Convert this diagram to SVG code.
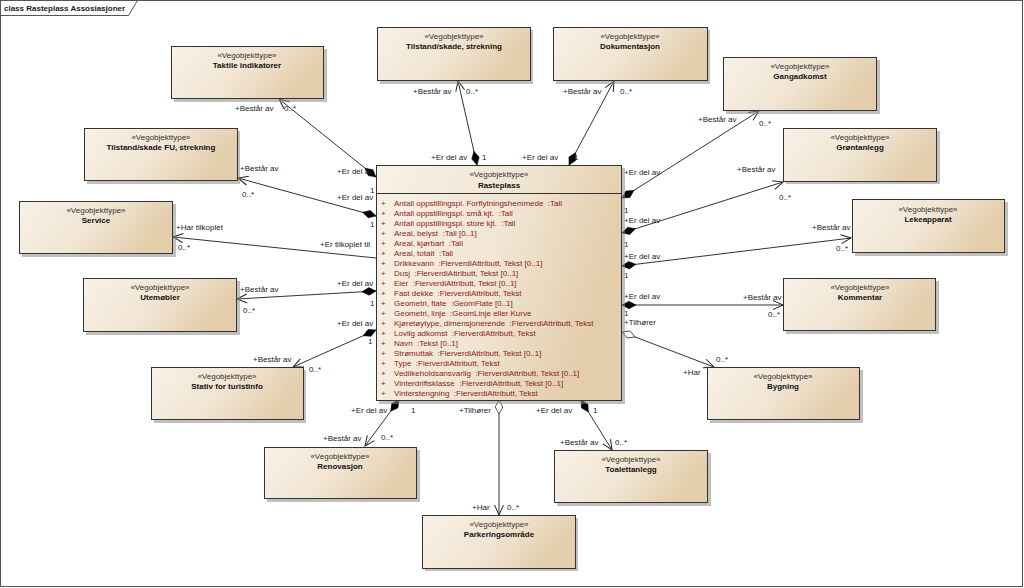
<svg xmlns="http://www.w3.org/2000/svg" width="1024" height="588" viewBox="0 0 1024 588">
<style>
text{font-family:"Liberation Sans",Arial,sans-serif;font-size:8px;fill:#1a1a1a;white-space:pre}
.st{text-anchor:middle;fill:#333}
.nm{text-anchor:middle;font-weight:bold;fill:#111}
.box{fill:url(#g);stroke:#333;stroke-width:1}
.sh{fill:#8c8c8c;opacity:0.55}
.at{fill:#8b1c1c}
.c{fill:none;stroke:#333;stroke-width:1}
.lb{fill:#222}
</style>
<defs>
<linearGradient id="g" x1="0" y1="0" x2="1" y2="0.3">
<stop offset="0" stop-color="#f8f1e6"/>
<stop offset="0.55" stop-color="#f1e5d3"/>
<stop offset="1" stop-color="#e3cdab"/>
</linearGradient>
<marker id="arr" markerUnits="userSpaceOnUse" markerWidth="20" markerHeight="20" refX="0" refY="0" orient="auto" overflow="visible">
<path d="M-10,-4.5 L0,0 L-10,4.5" fill="none" stroke="#222" stroke-width="1"/>
</marker>
<marker id="dia" markerUnits="userSpaceOnUse" markerWidth="20" markerHeight="20" refX="0" refY="0" orient="auto" overflow="visible">
<path d="M0,0 L7,-3.8 L14,0 L7,3.8 Z" fill="#000" stroke="#000" stroke-width="0.5"/>
</marker>
<marker id="hdia" markerUnits="userSpaceOnUse" markerWidth="20" markerHeight="20" refX="0" refY="0" orient="auto" overflow="visible">
<path d="M0,0 L7,-3.8 L14,0 L7,3.8 Z" fill="#fff" stroke="#333" stroke-width="0.8"/>
</marker>
</defs>
<rect x="0" y="0" width="1024" height="588" fill="#fff"/>
<g id="frame">
<rect x="0.5" y="0.5" width="1022" height="586" fill="none" stroke="#555"/>
<path d="M0.5,15.5 H128.5 L137.5,0.5" fill="none" stroke="#555"/>
<text x="4" y="11" style="font-weight:bold">class Rasteplass Assosiasjoner</text>
</g>

<g id="connectors">
<path class="c" d="M376,177 L279,99" marker-start="url(#dia)" marker-end="url(#arr)"/>
<path class="c" d="M376,216 L238,178" marker-start="url(#dia)" marker-end="url(#arr)"/>
<path class="c" d="M376,258 L173,237" marker-end="url(#arr)"/>
<path class="c" d="M376,291 L237,299" marker-start="url(#dia)" marker-end="url(#arr)"/>
<path class="c" d="M376,330 L293,367" marker-start="url(#dia)" marker-end="url(#arr)"/>
<path class="c" d="M399,400 L365,446" marker-start="url(#dia)" marker-end="url(#arr)"/>
<path class="c" d="M499,400 L499,515" marker-start="url(#hdia)" marker-end="url(#arr)"/>
<path class="c" d="M581,400 L612,450" marker-start="url(#dia)" marker-end="url(#arr)"/>
<path class="c" d="M477,165 L458,81" marker-start="url(#dia)" marker-end="url(#arr)"/>
<path class="c" d="M569,165 L614,81" marker-start="url(#dia)" marker-end="url(#arr)"/>
<path class="c" d="M622,198 L759,111" marker-start="url(#dia)" marker-end="url(#arr)"/>
<path class="c" d="M622,233 L783,182" marker-start="url(#dia)" marker-end="url(#arr)"/>
<path class="c" d="M622,266 L851,238" marker-start="url(#dia)" marker-end="url(#arr)"/>
<path class="c" d="M622,305 L783,305" marker-start="url(#dia)" marker-end="url(#arr)"/>
<path class="c" d="M622,332 L714,367" marker-start="url(#hdia)" marker-end="url(#arr)"/>

<g class="lbls">
<text class="lb" x="235" y="111">+Består av</text>
<text class="lb" x="284" y="111">0..*</text>
<text class="lb" x="337" y="174">+Er del av</text>
<text class="lb" x="370" y="193">1</text>

<text class="lb" x="240" y="171">+Består av</text>
<text class="lb" x="242" y="197">0..*</text>
<text class="lb" x="337" y="200">+Er del av</text>
<text class="lb" x="370" y="227">1</text>

<text class="lb" x="176" y="230">+Har tilkoplet</text>
<text class="lb" x="178" y="250">0..*</text>
<text class="lb" x="320" y="247">+Er tilkoplet til</text>

<text class="lb" x="240" y="292">+Består av</text>
<text class="lb" x="243" y="313">0..*</text>
<text class="lb" x="337" y="286">+Er del av</text>
<text class="lb" x="370" y="306">1</text>

<text class="lb" x="337" y="326">+Er del av</text>
<text class="lb" x="368" y="344">1</text>
<text class="lb" x="253" y="362">+Består av</text>
<text class="lb" x="309" y="372">0..*</text>

<text class="lb" x="351" y="413">+Er del av</text>
<text class="lb" x="411" y="413">1</text>
<text class="lb" x="323" y="441">+Består av</text>
<text class="lb" x="381" y="440">0..*</text>

<text class="lb" x="459" y="413">+Tilhører</text>
<text class="lb" x="472" y="510">+Har</text>
<text class="lb" x="507" y="510">0..*</text>

<text class="lb" x="536" y="413">+Er del av</text>
<text class="lb" x="593" y="413">1</text>
<text class="lb" x="560" y="445">+Består av</text>
<text class="lb" x="615" y="445">0..*</text>

<text class="lb" x="413" y="94">+Består av</text>
<text class="lb" x="466" y="94">0..*</text>
<text class="lb" x="431" y="160">+Er del av</text>
<text class="lb" x="482" y="160">1</text>

<text class="lb" x="563" y="94">+Består av</text>
<text class="lb" x="620" y="94">0..*</text>
<text class="lb" x="522" y="160">+Er del av</text>
<text class="lb" x="574" y="160">1</text>

<text class="lb" x="624" y="175">+Er del av</text>
<text class="lb" x="624" y="213">1</text>
<text class="lb" x="698" y="122">+Består av</text>
<text class="lb" x="759" y="126">0..*</text>

<text class="lb" x="624" y="223">+Er del av</text>
<text class="lb" x="624" y="247">1</text>
<text class="lb" x="737" y="172">+Består av</text>
<text class="lb" x="779" y="200">0..*</text>

<text class="lb" x="624" y="259">+Er del av</text>
<text class="lb" x="624" y="278">1</text>
<text class="lb" x="812" y="230">+Består av</text>
<text class="lb" x="836" y="251">0..*</text>

<text class="lb" x="624" y="299">+Er del av</text>
<text class="lb" x="624" y="316">1</text>
<text class="lb" x="743" y="300">+Består av</text>
<text class="lb" x="768" y="317">0..*</text>

<text class="lb" x="624" y="325">+Tilhører</text>
<text class="lb" x="683" y="375">+Har</text>
<text class="lb" x="716" y="362">0..*</text>
</g>
</g>

<g id="taktile">
<rect class="sh" x="174" y="49" width="153" height="53"/>
<rect class="box" x="171.5" y="46.5" width="152" height="52"/>
<text class="st" x="247" y="58">«Vegobjekttype»</text>
<text class="nm" x="247" y="68">Taktile indikatorer</text>
</g>
<g id="tilstand">
<rect class="sh" x="380" y="30" width="153" height="54"/>
<rect class="box" x="377.5" y="27.5" width="153" height="53"/>
<text class="st" x="454" y="39">«Vegobjekttype»</text>
<text class="nm" x="454" y="49">Tilstand/skade, strekning</text>
</g>
<g id="dokumentasjon">
<rect class="sh" x="556" y="30" width="154" height="54"/>
<rect class="box" x="553.5" y="27.5" width="154" height="53"/>
<text class="st" x="630" y="39">«Vegobjekttype»</text>
<text class="nm" x="630" y="49">Dokumentasjon</text>
</g>
<g id="gangadkomst">
<rect class="sh" x="726" y="60" width="154" height="54"/>
<rect class="box" x="723.5" y="57.5" width="153" height="53"/>
<text class="st" x="800" y="69">«Vegobjekttype»</text>
<text class="nm" x="800" y="79">Gangadkomst</text>
</g>
<g id="fu">
<rect class="sh" x="87" y="131" width="153" height="53"/>
<rect class="box" x="84.5" y="128.5" width="153" height="52"/>
<text class="st" x="161" y="140">«Vegobjekttype»</text>
<text class="nm" x="161" y="150">Tilstand/skade FU, strekning</text>
</g>
<g id="grontanlegg">
<rect class="sh" x="786" y="131" width="154" height="53"/>
<rect class="box" x="783.5" y="128.5" width="153" height="53"/>
<text class="st" x="860" y="140">«Vegobjekttype»</text>
<text class="nm" x="860" y="150">Grøntanlegg</text>
</g>
<g id="service">
<rect class="sh" x="22" y="204" width="154" height="53"/>
<rect class="box" x="19.5" y="201.5" width="153" height="52"/>
<text class="st" x="96" y="213">«Vegobjekttype»</text>
<text class="nm" x="96" y="223">Service</text>
</g>
<g id="lekeapparat">
<rect class="sh" x="855" y="202" width="153" height="54"/>
<rect class="box" x="852.5" y="199.5" width="152" height="53"/>
<text class="st" x="928" y="212">«Vegobjekttype»</text>
<text class="nm" x="928" y="222">Lekeapparat</text>
</g>
<g id="utemobler">
<rect class="sh" x="86" y="281" width="154" height="54"/>
<rect class="box" x="83.5" y="278.5" width="153" height="53"/>
<text class="st" x="160" y="290">«Vegobjekttype»</text>
<text class="nm" x="160" y="300">Utemøbler</text>
</g>
<g id="kommentar">
<rect class="sh" x="786" y="281" width="153" height="53"/>
<rect class="box" x="783.5" y="278.5" width="152" height="52"/>
<text class="st" x="860" y="290">«Vegobjekttype»</text>
<text class="nm" x="860" y="300">Kommentar</text>
</g>
<g id="stativ">
<rect class="sh" x="154" y="370" width="152" height="53"/>
<rect class="box" x="151.5" y="367.5" width="152" height="52"/>
<text class="st" x="227" y="379">«Vegobjekttype»</text>
<text class="nm" x="227" y="389">Stativ for turistinfo</text>
</g>
<g id="bygning">
<rect class="sh" x="710" y="370" width="153" height="53"/>
<rect class="box" x="707.5" y="367.5" width="152" height="52"/>
<text class="st" x="783" y="379">«Vegobjekttype»</text>
<text class="nm" x="783" y="389">Bygning</text>
</g>
<g id="renovasjon">
<rect class="sh" x="267" y="450" width="153" height="52"/>
<rect class="box" x="264.5" y="447.5" width="152" height="51"/>
<text class="st" x="340" y="459">«Vegobjekttype»</text>
<text class="nm" x="340" y="469">Renovasjon</text>
</g>
<g id="toalettanlegg">
<rect class="sh" x="557" y="453" width="154" height="53"/>
<rect class="box" x="554.5" y="450.5" width="153" height="52"/>
<text class="st" x="631" y="462">«Vegobjekttype»</text>
<text class="nm" x="631" y="472">Toalettanlegg</text>
</g>
<g id="parkering">
<rect class="sh" x="425" y="518" width="153" height="53"/>
<rect class="box" x="422.5" y="515.5" width="153" height="53"/>
<text class="st" x="499" y="527">«Vegobjekttype»</text>
<text class="nm" x="499" y="537">Parkeringsområde</text>
</g>

<g id="rasteplass">
<rect class="sh" x="379" y="168" width="246" height="236"/>
<rect class="box" x="376.5" y="165.5" width="245" height="235"/>
<line x1="376.5" y1="193.5" x2="621.5" y2="193.5" stroke="#333"/>
<text class="st" x="499" y="177">«Vegobjekttype»</text>
<text class="nm" x="499" y="188">Rasteplass</text>
<g class="at">
<text class="at" x="381" y="206">+</text><text class="at" x="394" y="206">Antall oppstillingspl. Forflytningshemmede  :Tall</text>
<text class="at" x="381" y="216">+</text><text class="at" x="394" y="216">Antall oppstillingspl. små kjt.  :Tall</text>
<text class="at" x="381" y="226">+</text><text class="at" x="394" y="226">Antall oppstillingspl. store kjt.  :Tall</text>
<text class="at" x="381" y="236">+</text><text class="at" x="394" y="236">Areal, belyst  :Tall [0..1]</text>
<text class="at" x="381" y="246">+</text><text class="at" x="394" y="246">Areal, kjørbart  :Tall</text>
<text class="at" x="381" y="256">+</text><text class="at" x="394" y="256">Areal, totalt  :Tall</text>
<text class="at" x="381" y="266">+</text><text class="at" x="394" y="266">Drikkevann  :FlerverdiAttributt, Tekst [0..1]</text>
<text class="at" x="381" y="276">+</text><text class="at" x="394" y="276">Dusj  :FlerverdiAttributt, Tekst [0..1]</text>
<text class="at" x="381" y="286">+</text><text class="at" x="394" y="286">Eier  :FlerverdiAttributt, Tekst [0..1]</text>
<text class="at" x="381" y="296">+</text><text class="at" x="394" y="296">Fast dekke  :FlerverdiAttributt, Tekst</text>
<text class="at" x="381" y="306">+</text><text class="at" x="394" y="306">Geometri, flate  :GeomFlate [0..1]</text>
<text class="at" x="381" y="316">+</text><text class="at" x="394" y="316">Geometri, linje  :GeomLinje eller Kurve</text>
<text class="at" x="381" y="326">+</text><text class="at" x="394" y="326">Kjøretøytype, dimensjonerende  :FlerverdiAttributt, Tekst</text>
<text class="at" x="381" y="336">+</text><text class="at" x="394" y="336">Lovlig adkomst  :FlerverdiAttributt, Tekst</text>
<text class="at" x="381" y="346">+</text><text class="at" x="394" y="346">Navn  :Tekst [0..1]</text>
<text class="at" x="381" y="356">+</text><text class="at" x="394" y="356">Strømuttak  :FlerverdiAttributt, Tekst [0..1]</text>
<text class="at" x="381" y="366">+</text><text class="at" x="394" y="366">Type  :FlerverdiAttributt, Tekst</text>
<text class="at" x="381" y="376">+</text><text class="at" x="394" y="376">Vedlikeholdsansvarlig  :FlerverdiAttributt, Tekst [0..1]</text>
<text class="at" x="381" y="386">+</text><text class="at" x="394" y="386">Vinterdriftsklasse  :FlerverdiAttributt, Tekst [0..1]</text>
<text class="at" x="381" y="396">+</text><text class="at" x="394" y="396">Vinterstengning  :FlerverdiAttributt, Tekst</text>
</g>
</g>
</svg>
